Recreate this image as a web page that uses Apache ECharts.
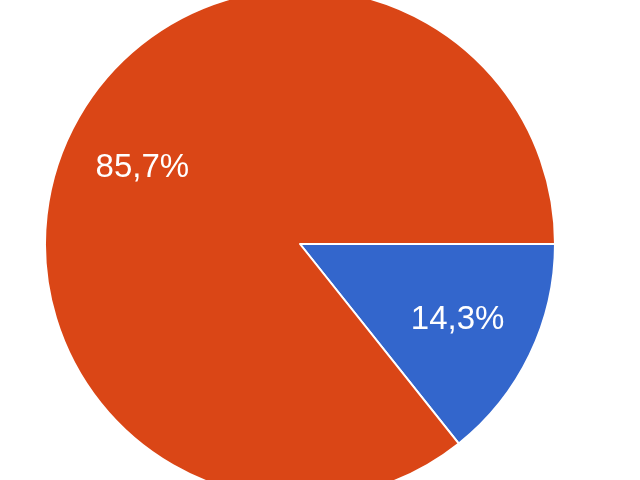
<!DOCTYPE html>
<html>
<head>
<meta charset="utf-8">
<script src="https://cdn.jsdelivr.net/npm/echarts@6/dist/echarts.min.js"></script>
<style>
  html, body { margin: 0; padding: 0; background: #fff; }
  #main { width: 640px; height: 480px; }
</style>
</head>
<body>
<div id="main"></div>
<script>
const categories = ['B', 'A']
const values = [14.3, 85.7]
const colors = ['#3366CC', '#DA4616']

const chart = echarts.init(document.getElementById('main'))
const pieData = categories.map((name, i) => ({
  name: name,
  value: values[i],
  itemStyle: { color: colors[i] }
}))

chart.setOption({
  animation: false,
  series: [
    {
      // slices
      type: 'pie',
      center: [300, 244],
      radius: 255,
      startAngle: 0,
      clockwise: true,
      silent: true,
      label: { show: false },
      labelLine: { show: false },
      itemStyle: {
        borderColor: '#fff',
        borderWidth: 2
      },
      data: pieData
    },
    {
      // percentage labels (transparent ring)
      type: 'pie',
      center: [300, 244],
      radius: [150, 194],
      startAngle: 0,
      clockwise: true,
      silent: true,
      itemStyle: { color: 'transparent' },
      label: {
        show: true,
        position: 'inside',
        color: '#fff',
        fontSize: 33,
        fontFamily: 'Liberation Sans, Arial, sans-serif',
        formatter: function(p) {
          return p.value.toFixed(1).replace('.', ',') + '%'
        }
      },
      labelLine: { show: false },
      data: categories.map((name, i) => ({ name: name, value: values[i] }))
    }
  ]
})
</script>
</body>
</html>
